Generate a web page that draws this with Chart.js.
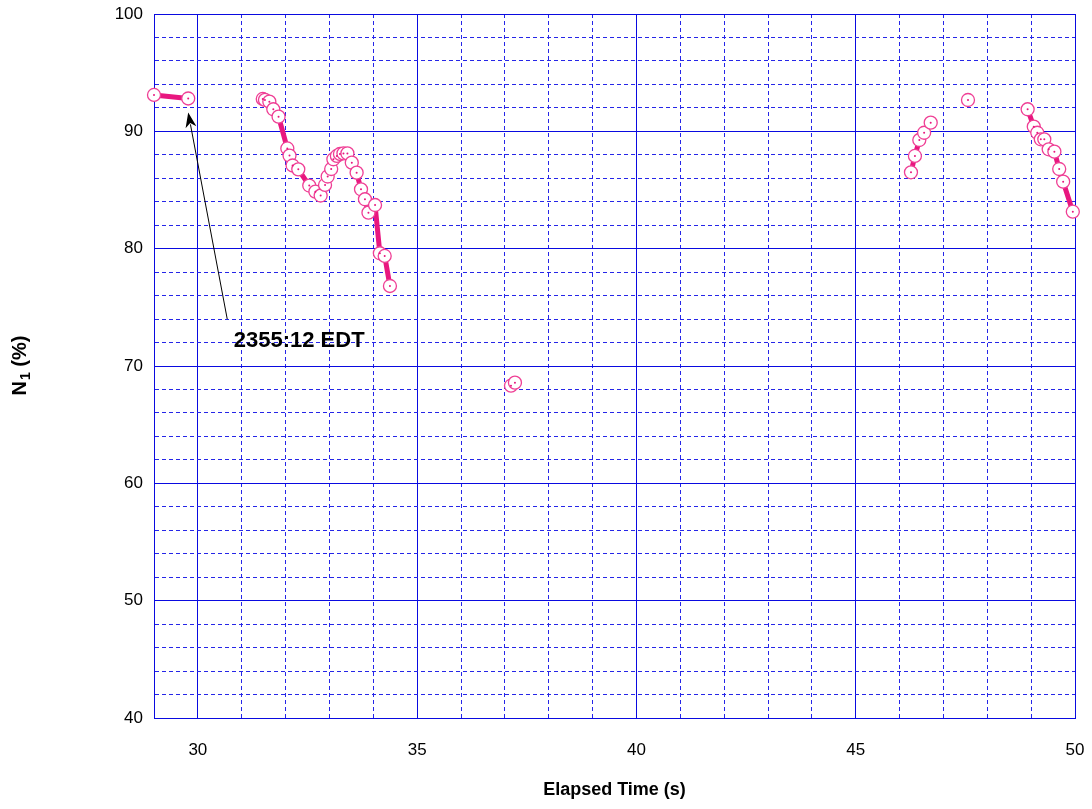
<!DOCTYPE html>
<html>
<head>
<meta charset="utf-8">
<title>N1 vs elapsed time</title>
<script src="https://cdn.jsdelivr.net/npm/chart.js@4.4.1/dist/chart.umd.min.js"></script>
<style>
  html, body { margin: 0; padding: 0; background: #fff; }
  #wrap { width: 1092px; height: 809px; }
</style>
</head>
<body>
<div id="wrap"><canvas id="n1-chart" width="1092" height="809"></canvas></div>
<script>
// elapsed time (s) and N1 (%), one pair of arrays per recorded run of points
const run1Time = [29.00, 29.78];
const run1N1   = [93.10, 92.80];

const run2Time = [31.48, 31.53, 31.63, 31.72, 31.84, 32.04, 32.09, 32.16, 32.29, 32.54,
                  32.68, 32.80, 32.90, 32.96, 33.04, 33.09, 33.17, 33.24, 33.32, 33.41,
                  33.51, 33.62, 33.72, 33.81, 33.89, 34.04, 34.15, 34.26, 34.38];
const run2N1   = [92.76, 92.68, 92.53, 91.88, 91.25, 88.54, 87.93, 87.09, 86.76, 85.38,
                  84.86, 84.53, 85.43, 86.15, 86.79, 87.62, 87.90, 88.07, 88.12, 88.12,
                  87.33, 86.48, 85.06, 84.21, 83.07, 83.72, 79.61, 79.38, 76.82];

const run3Time = [37.14, 37.23];
const run3N1   = [68.32, 68.58];

const run4Time = [46.26, 46.35, 46.45, 46.56, 46.71];
const run4N1   = [86.51, 87.90, 89.26, 89.88, 90.74];

const run5Time = [47.56];
const run5N1   = [92.67];

const run6Time = [48.92, 49.06, 49.14, 49.22, 49.30, 49.40, 49.53, 49.64, 49.73, 49.95];
const run6N1   = [91.88, 90.40, 89.88, 89.32, 89.32, 88.47, 88.27, 86.79, 85.71, 83.15];

const xTickLabels = [30, 35, 40, 45, 50];
const yTickLabels = [40, 50, 60, 70, 80, 90, 100];

// callout: text and where its arrow points (data units)
const noteText = '2355:12 EDT';
const noteAt = { x: 32.31, y: 72.15 };
const arrowFrom = { x: 30.67, y: 74.0 };
const arrowTo = { x: 29.78, y: 91.6 };

const FONT = 'Arial, "Liberation Sans", Helvetica, sans-serif';
const majorBlue = '#0a0ae0';
const minorBlue = '#2626e8';
const lineColor = '#e8177f';
const markColor = '#ef3f95';

function toPoints(times, values) {
    return times.map((t, i) => ({ x: t, y: values[i] }));
}

const runs = [
    [run1Time, run1N1],
    [run2Time, run2N1],
    [run3Time, run3N1],
    [run4Time, run4N1],
    [run5Time, run5N1],
    [run6Time, run6N1]
];

const datasets = [];
// small dots in the middle of every marker, on top
datasets.push({
    data: runs.flatMap(r => toPoints(r[0], r[1])),
    showLine: false,
    clip: false,
    pointRadius: 1,
    pointBorderWidth: 0,
    pointBackgroundColor: lineColor,
    order: 0
});
runs.forEach(r => {
    datasets.push({
        data: toPoints(r[0], r[1]),
        showLine: true,
        clip: false,
        borderColor: lineColor,
        borderWidth: 5,
        pointRadius: 6.5,
        pointBorderWidth: 1.3,
        pointBorderColor: markColor,
        pointBackgroundColor: '#ffffff',
        order: 1
    });
});

function isMajor(ctx, step) {
    return ctx.tick && Math.round(ctx.tick.value) % step === 0;
}
function dashFor(step) {
    return ctx => {
        if (!ctx.tick) return [];
        return isMajor(ctx, step) ? [] : [4, 3];
    };
}
function colorFor(step) {
    return ctx => isMajor(ctx, step) ? majorBlue : minorBlue;
}

const titlesAndNote = {
    id: 'titlesAndNote',
    afterDraw(chart) {
        const ctx = chart.ctx;
        const area = chart.chartArea;
        const xs = chart.scales.x, ys = chart.scales.y;
        ctx.save();
        ctx.fillStyle = '#000';

        // x axis title
        ctx.font = 'bold 18px ' + FONT;
        ctx.textAlign = 'center';
        ctx.textBaseline = 'middle';
        ctx.fillText('Elapsed Time (s)', (area.left + area.right) / 2, 790);

        // y axis title with subscript
        ctx.save();
        ctx.translate(20, (area.top + area.bottom) / 2);
        ctx.rotate(-Math.PI / 2);
        ctx.textAlign = 'left';
        ctx.textBaseline = 'middle';
        const big = 'bold 20px ' + FONT, small = 'bold 14px ' + FONT;
        ctx.font = big;
        const wN = ctx.measureText('N').width;
        const wRest = ctx.measureText(' (%)').width;
        ctx.font = small;
        const w1 = ctx.measureText('1').width;
        let x0 = -(wN + w1 + wRest) / 2;
        ctx.font = big;
        ctx.fillText('N', x0, 0);
        ctx.font = small;
        ctx.fillText('1', x0 + wN + 1, 6);
        ctx.font = big;
        ctx.fillText(' (%)', x0 + wN + w1 + 1, 0);
        ctx.restore();

        // callout arrow
        const fx = xs.getPixelForValue(arrowFrom.x), fy = ys.getPixelForValue(arrowFrom.y);
        const tx = xs.getPixelForValue(arrowTo.x), ty = ys.getPixelForValue(arrowTo.y);
        const ang = Math.atan2(ty - fy, tx - fx);
        const headLen = 15, headHalf = 5.5;
        ctx.strokeStyle = '#000';
        ctx.lineWidth = 1;
        ctx.beginPath();
        ctx.moveTo(fx, fy);
        ctx.lineTo(tx - Math.cos(ang) * headLen * 0.8, ty - Math.sin(ang) * headLen * 0.8);
        ctx.stroke();
        ctx.beginPath();
        ctx.moveTo(tx, ty);
        ctx.lineTo(tx - Math.cos(ang) * headLen - Math.sin(ang) * headHalf,
                   ty - Math.sin(ang) * headLen + Math.cos(ang) * headHalf);
        ctx.lineTo(tx - Math.cos(ang) * headLen * 0.7, ty - Math.sin(ang) * headLen * 0.7);
        ctx.lineTo(tx - Math.cos(ang) * headLen + Math.sin(ang) * headHalf,
                   ty - Math.sin(ang) * headLen - Math.cos(ang) * headHalf);
        ctx.closePath();
        ctx.fill();

        // callout text
        ctx.font = 'bold 22px ' + FONT;
        ctx.textAlign = 'center';
        ctx.textBaseline = 'middle';
        ctx.fillText(noteText, xs.getPixelForValue(noteAt.x), ys.getPixelForValue(noteAt.y));
        ctx.restore();
    }
};

new Chart(document.getElementById('n1-chart'), {
    type: 'scatter',
    data: { datasets: datasets },
    options: {
        responsive: false,
        animation: false,
        layout: { padding: { left: 0, top: 14, right: 17, bottom: 0 } },
        plugins: { legend: { display: false }, tooltip: { enabled: false } },
        scales: {
            x: {
                type: 'linear',
                min: 29,
                max: 50,
                afterFit: s => { s.height = 91; s.paddingLeft = 0; s.paddingRight = 0; },
                ticks: {
                    stepSize: 1,
                    autoSkip: false,
                    maxRotation: 0,
                    padding: 22,
                    color: '#000',
                    font: { family: FONT, size: 17 },
                    callback: v => xTickLabels.includes(v) ? String(v) : ''
                },
                grid: { color: colorFor(5), lineWidth: 1, drawTicks: false },
                border: { display: true, color: majorBlue, width: 1, dash: dashFor(5) }
            },
            y: {
                min: 40,
                max: 100,
                afterFit: s => { s.width = 154; s.paddingTop = 0; s.paddingBottom = 0; },
                ticks: {
                    stepSize: 2,
                    autoSkip: false,
                    padding: 11,
                    color: '#000',
                    font: { family: FONT, size: 17 },
                    callback: v => yTickLabels.includes(v) ? String(v) : ''
                },
                grid: { color: colorFor(10), lineWidth: 1, drawTicks: false },
                border: { display: true, color: majorBlue, width: 1, dash: dashFor(10) }
            }
        }
    },
    plugins: [titlesAndNote]
});
</script>
</body>
</html>
